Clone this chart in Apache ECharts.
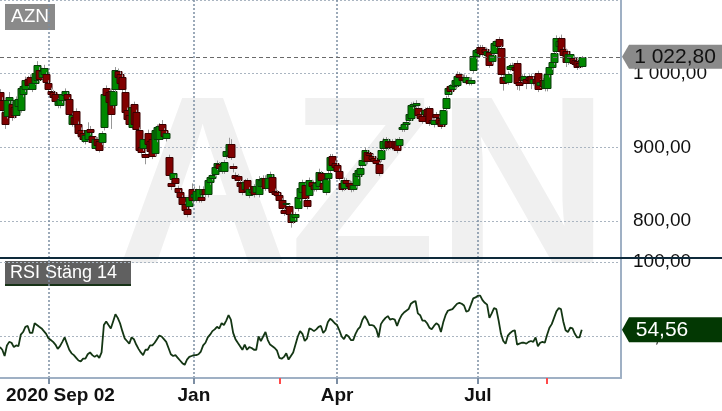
<!DOCTYPE html>
<html><head><meta charset="utf-8">
<script src="https://cdn.jsdelivr.net/npm/echarts@6/dist/echarts.min.js"></script>
<style>html,body{margin:0;padding:0;background:#fff}#c{width:722px;height:411px}</style>
</head><body><div id="c"></div>
<script>
// ---------- data ----------
const symbolName = 'AZN';
const rsiTitle = 'RSI Stäng 14';
const startDate = '2020-09-02';
const holidays = ['2020-12-24','2020-12-25','2020-12-31','2021-01-01','2021-01-06','2021-04-02','2021-04-05','2021-05-13','2021-06-25'];
const slotCount = 270;              // trading-day slots shown on the axis (data + empty right margin)
const firstLabel = '2020 Sep 02';
const quarterLabels = {1:'Jan', 4:'Apr', 7:'Jul', 10:''};
const exDividendDates = ['2021-02-25','2021-08-12'];

const opens = [
975,964,948,943,964,959,955,944,956,951,
972,979,993,996,979,988,992,1005,996,999,
999,988,977,975,972,957,957,964,971,972,
965,932,941,949,932,924,920,908,911,925,
916,899,911,908,907,927,980,975,977,957,
979,1004,1000,996,975,951,944,928,959,948,
924,901,899,891,920,908,911,892,911,911,
932,923,912,887,852,857,859,845,839,832,
823,816,821,844,832,829,829,832,837,843,
836,853,859,864,873,877,868,868,888,889,
904,875,863,861,853,851,843,855,835,839,
847,839,836,848,848,859,845,859,860,841,
839,835,828,815,823,820,809,800,805,817,
831,839,849,828,835,853,849,844,848,865,
851,839,859,869,888,879,876,868,851,845,
855,852,851,844,849,861,864,876,881,893,
892,888,885,883,877,884,899,899,909,907,
908,909,909,903,925,925,932,937,940,956,
957,953,945,943,945,952,953,937,931,945,
940,937,932,953,972,983,979,983,985,999,
996,996,989,992,988,1005,1024,1029,1036,1036,
1033,1025,1029,1017,1028,1039,1047,1035,995,991,
989,1007,1009,1009,1015,989,996,991,993,996,
997,988,993,1001,985,991,980,980,999,1009,
1016,1031,1037,1049,1033,1031,1016,1021,1021,1019,
1017,1015,1011];
const closes = [
961,951,932,964,968,941,944,964,965,980,
983,991,985,985,988,1001,1012,993,1004,1008,
989,979,972,968,963,963,965,972,976,965,
945,944,932,932,919,916,911,917,924,921,
907,911,903,897,919,973,971,961,945,976,
1005,995,987,979,948,939,931,955,932,925,
897,893,911,887,905,895,888,924,927,929,
924,916,919,863,847,865,851,839,832,823,
815,809,832,828,837,841,844,829,844,836,
856,860,863,873,879,872,875,880,895,905,
887,872,859,855,848,839,853,841,843,844,
836,847,857,856,859,845,859,864,840,837,
835,829,817,811,825,809,799,809,809,832,
845,853,831,820,856,847,844,852,867,855,
844,857,865,887,876,873,868,859,844,856,
851,847,843,849,865,869,872,883,896,881,
889,884,881,879,865,897,909,911,900,901,
900,899,896,911,927,931,935,945,957,959,
960,944,940,936,951,943,933,935,937,941,
933,929,951,967,980,977,985,991,997,995,
992,991,995,988,992,1024,1032,1033,1028,1027,
1029,1031,1012,1025,1041,1044,1037,1000,987,996,
1000,1011,1012,1005,988,985,992,997,988,991,
987,993,988,979,989,983,991,999,1009,1016,
1028,1048,1045,1031,1025,1016,1027,1027,1015,1013,
1009,1011,1022.8];
const lows = [
957,945,925,939,960,936,939,940,952,947,
968,975,981,980,975,985,988,989,992,995,
985,975,968,963,958,953,953,960,967,961,
940,928,927,928,913,911,906,904,907,917,
903,896,899,893,903,923,967,957,925,953,
975,991,983,975,944,935,927,924,928,921,
893,889,895,877,901,891,884,888,907,907,
920,912,908,859,842,853,847,835,828,819,
811,805,817,824,828,825,825,825,833,832,
832,849,855,860,869,868,864,864,884,885,
883,866,855,851,844,835,839,837,831,835,
832,835,832,844,844,841,841,855,836,833,
831,825,813,807,819,805,791,796,801,813,
827,835,827,816,831,843,840,840,844,851,
840,835,855,865,872,869,864,855,840,841,
847,843,839,840,845,857,860,872,877,877,
885,880,877,875,861,880,895,895,896,897,
896,895,892,899,921,921,928,933,936,952,
953,940,936,932,941,939,929,931,927,937,
929,925,928,949,968,973,975,979,981,991,
988,987,985,984,984,1001,1020,1025,1024,1023,
1025,1021,1008,1013,1024,1035,1033,996,977,987,
985,1003,1005,1001,978,977,988,987,979,987,
979,984,984,975,981,979,976,976,995,1005,
1012,1027,1033,1027,1021,1009,1012,1017,1011,1009,
1005,1007,1008];
const highs = [
979,968,951,968,975,962,958,969,968,984,
987,996,997,999,992,1005,1017,1009,1008,1012,
1002,991,981,978,975,967,969,976,980,975,
968,947,944,953,935,927,923,921,934,929,
919,914,914,911,922,977,984,978,980,979,
1009,1007,1003,999,978,954,947,959,962,951,
927,904,914,895,924,911,914,928,931,933,
937,926,922,890,855,868,862,848,842,835,
826,819,835,851,847,844,848,835,847,846,
859,863,866,876,882,880,878,883,899,913,
911,878,866,864,856,854,857,858,846,847,
850,850,861,859,862,862,862,867,863,844,
842,838,831,818,828,823,812,812,812,835,
848,856,852,831,859,856,852,855,871,868,
854,860,868,891,891,882,879,871,854,859,
858,855,854,852,868,872,875,886,900,896,
895,891,888,886,880,900,913,914,912,910,
911,912,912,914,930,934,938,949,961,962,
964,956,948,946,954,955,956,940,940,948,
943,940,954,970,983,986,988,994,1003,1002,
999,999,998,995,995,1028,1036,1038,1039,1039,
1036,1034,1033,1028,1045,1047,1050,1038,998,999,
1003,1014,1015,1012,1018,992,999,1000,996,999,
1000,996,996,1004,992,994,994,1002,1012,1019,
1031,1052,1050,1053,1036,1034,1030,1030,1024,1022,
1020,1018,1024];
const rsi = [
42.9,41.1,36.9,44.0,46.4,45.8,42.9,44.0,43.5,51.2,
53.0,56.5,57.1,52.4,52.4,58.9,57.7,56.5,55.4,53.6,
51.8,48.8,47.6,46.4,44.6,41.7,43.5,46.4,49.4,45.2,
41.1,38.7,37.5,35.7,33.9,33.3,35.1,35.1,38.1,39.3,
37.5,36.3,37.5,35.7,39.3,57.7,60.1,57.7,55.4,60.1,
64.9,62.5,58.9,53.6,48.8,47.0,45.2,49.4,48.2,44.6,
41.7,39.3,37.5,41.1,41.1,44.0,44.0,45.8,48.2,50.6,
50.0,48.2,46.4,42.3,38.1,36.9,37.5,35.7,33.9,32.1,
31.0,34.5,36.3,36.9,37.5,37.5,38.1,39.9,44.0,45.8,
49.4,51.2,53.6,54.8,56.5,55.4,58.9,57.7,60.7,64.3,
61.3,52.4,48.2,45.8,43.5,41.1,44.6,41.1,42.9,42.3,
41.1,41.1,50.0,47.0,50.0,53.0,47.6,44.6,43.5,42.3,
40.5,35.7,35.1,36.3,38.7,34.5,36.9,39.3,44.6,50.0,
53.6,51.8,47.0,48.8,55.4,54.8,53.6,54.8,56.5,57.1,
52.4,54.2,59.5,61.9,60.7,58.9,57.7,54.2,50.0,48.2,
51.2,50.0,47.6,47.6,51.8,54.8,56.5,61.3,63.7,61.3,
57.7,57.7,57.1,54.8,49.4,58.3,60.7,62.5,63.7,61.3,
61.9,61.3,57.1,61.3,64.3,66.1,67.3,68.4,72.0,73.2,
73.8,65.5,64.3,60.7,60.7,58.9,55.9,54.8,57.1,58.9,
57.7,53.0,59.5,64.3,67.3,67.9,68.4,70.2,72.0,72.6,
72.0,70.8,66.7,67.3,71.4,75.6,76.2,77.4,77.4,74.4,
72.6,71.4,62.5,65.5,69.0,68.4,60.7,51.8,47.0,45.2,
50.6,52.4,53.6,54.2,44.6,45.2,45.8,45.8,45.2,46.4,
47.0,46.4,49.4,43.5,45.8,46.4,45.8,51.2,55.9,58.3,
62.5,66.7,69.0,68.4,60.1,54.2,53.0,55.9,55.4,51.8,
49.4,49.4,54.56];

// ---------- trading-day calendar (categories) ----------
const dates = [];
(function () {
  const d = new Date(startDate + 'T00:00:00Z');
  while (dates.length < slotCount) {
    const wd = d.getUTCDay();
    const s = d.toISOString().slice(0, 10);
    if (wd !== 0 && wd !== 6 && holidays.indexOf(s) < 0) dates.push(s);
    d.setUTCDate(d.getUTCDate() + 1);
  }
})();
const monthOf = i => +dates[i].slice(5, 7);
const isQuarterStart = i => i > 0 && monthOf(i) !== monthOf(i - 1) && (monthOf(i) in quarterLabels);
const isExDiv = i => exDividendDates.indexOf(dates[i]) >= 0;

function sv(v) {
  const p = Number(v).toFixed(2).split('.');
  return p[0].replace(/\B(?=(\d{3})+(?!\d))/g, ' ') + ',' + p[1];
}

const candleData = opens.map((o, i) => [i, o, closes[i], lows[i], highs[i]]);
const last = closes.length - 1;
const FONT = '"Liberation Sans", Arial, sans-serif';
const frameColor = '#9fb0c4';
const vGridColor = '#7c8ea3';
const hGridColor = '#aab5c1';

function renderCandle(params, api) {
  const i = api.value(0);
  const o = api.value(1), c = api.value(2), l = api.value(3), h = api.value(4);
  const pO = api.coord([i, o]), pC = api.coord([i, c]);
  const pL = api.coord([i, l]), pH = api.coord([i, h]);
  const x = Math.round(pO[0]) + 0.5;
  const up = c >= o;
  const top = Math.round(Math.min(pO[1], pC[1])) + 0.5;
  const bot = Math.round(Math.max(pO[1], pC[1])) + 0.5;
  const w = 7;
  return {
    type: 'group',
    children: [
      { type: 'line', shape: { x1: x, y1: pH[1], x2: x, y2: pL[1] },
        style: { stroke: '#979797', lineWidth: 1 } },
      { type: 'rect', shape: { x: x - 3.5 + 0.5 - 0.5, y: top, width: w, height: Math.max(bot - top, 1) },
        style: { fill: up ? '#008800' : '#800000', stroke: up ? '#0b3b0b' : '#380000', lineWidth: 1 } }
    ]
  };
}

const calloutPath = 'path://M0,12 L7,0 L100,0 L100,24 L7,24 Z';

const option = {
  animation: false,
  backgroundColor: '#ffffff',
  textStyle: { fontFamily: FONT },
  grid: [
    { left: 0, right: 101, top: 0, height: 378 },
    { left: 0, right: 101, top: -4, height: 225 },
    { left: 0, right: 101, top: 262, height: 168 }
  ],
  xAxis: [
    { gridIndex: 0, type: 'category', data: dates, boundaryGap: false, position: 'bottom',
      axisLine: { show: true, onZero: false, lineStyle: { color: frameColor, width: 2 } },
      axisTick: { show: true, interval: i => isQuarterStart(i), length: 6, lineStyle: { color: vGridColor, width: 2 } },
      axisLabel: {
        show: true, margin: 8, alignMinLabel: 'left',
        interval: i => i === 0 || (isQuarterStart(i) && quarterLabels[monthOf(i)] !== ''),
        formatter: (v, i) => i === 0 ? '{f|' + firstLabel + '}' : '{m|' + (quarterLabels[+v.slice(5, 7)] || '') + '}',
        rich: {
          f: { fontSize: 19, fontWeight: 'bold', color: '#111', fontFamily: FONT, padding: [0, 0, 0, 6] },
          m: { fontSize: 19, fontWeight: 'bold', color: '#111', fontFamily: FONT }
        }
      },
      splitLine: { show: true, interval: i => isQuarterStart(i), lineStyle: { color: vGridColor, type: [2, 2], width: 1.5 } }
    },
    { gridIndex: 0, type: 'category', data: dates, boundaryGap: false, position: 'bottom',
      axisLine: { show: false }, axisLabel: { show: false }, splitLine: { show: false },
      axisTick: { show: true, interval: i => isExDiv(i), length: 6, lineStyle: { color: '#ff4a4a', width: 2 } } },
    { gridIndex: 1, type: 'category', data: dates, boundaryGap: false, show: false },
    { gridIndex: 2, type: 'category', data: dates, boundaryGap: false, show: false }
  ],
  yAxis: [
    { gridIndex: 0, type: 'value', position: 'right', min: 0, max: 1,
      axisLine: { show: true, lineStyle: { color: frameColor, width: 2 } },
      axisTick: { show: false }, axisLabel: { show: false }, splitLine: { show: false } },
    { gridIndex: 1, type: 'value', position: 'right', min: 800, max: 1100, interval: 100,
      axisLine: { show: false }, axisTick: { show: false },
      axisLabel: { showMaxLabel: false, formatter: sv, fontSize: 19, color: '#111', margin: 12 },
      splitLine: { show: true, lineStyle: { color: hGridColor, type: [2, 2], width: 1 } } },
    { gridIndex: 2, type: 'value', position: 'right', min: 0, max: 100, interval: 50,
      axisLine: { show: false }, axisTick: { show: false },
      axisLabel: { showMinLabel: false, formatter: sv, fontSize: 19, color: '#111', margin: 12 },
      splitLine: { show: true, lineStyle: { color: hGridColor, type: [2, 2], width: 1 } } }
  ],
  series: [
    { type: 'custom', name: symbolName, xAxisIndex: 2, yAxisIndex: 1, data: candleData,
      renderItem: renderCandle, encode: { x: 0, y: [1, 2, 3, 4] }, clip: false, z: 3,
      markLine: { silent: true, symbol: ['none', 'none'], animation: false,
        data: [{ yAxis: closes[last] }], label: { show: false },
        lineStyle: { color: '#6a6a6a', type: [4, 3], width: 1 } },
      markPoint: { silent: true, animation: false,
        data: [{ coord: [dates[slotCount - 1], closes[last]], value: closes[last] }],
        symbol: calloutPath, symbolSize: [100, 24], symbolOffset: [51, 0], symbolKeepAspect: false,
        itemStyle: { color: '#8a8a8a' },
        label: { show: true, position: 'inside', offset: [3, 0], formatter: p => sv(p.value),
          fontSize: 21, color: '#111', fontFamily: FONT } } },
    { type: 'line', name: rsiTitle, xAxisIndex: 3, yAxisIndex: 2, data: rsi, showSymbol: false,
      lineStyle: { color: '#143614', width: 1.8 }, z: 3,
      markPoint: { silent: true, animation: false,
        data: [{ coord: [dates[slotCount - 1], rsi[last]], value: rsi[last] }],
        symbol: calloutPath, symbolSize: [100, 25], symbolOffset: [51, 0], symbolKeepAspect: false,
        itemStyle: { color: '#033803' },
        label: { show: true, position: 'inside', offset: [-10, 0], formatter: p => sv(p.value),
          fontSize: 21, color: '#ffffff', fontFamily: FONT } } }
  ],
  graphic: [
    { type: 'text', z: -10, x: 116, y: 197, silent: true,
      style: { text: symbolName, font: 'bold 240px ' + FONT, fill: '#f0f0f0', align: 'left', verticalAlign: 'middle' } },
    { type: 'rect', z: 100, x: 0, y: 257, shape: { width: 722, height: 2 }, style: { fill: '#0e2a3b' } },
    { type: 'group', z: 100, x: 5, y: 4, children: [
      { type: 'rect', shape: { x: 0, y: 0, width: 50, height: 26 }, style: { fill: '#8a8a8a' } },
      { type: 'text', x: 25, y: 13, style: { text: symbolName, font: '19px ' + FONT, fill: '#ffffff', align: 'center', verticalAlign: 'middle' } }
    ] },
    { type: 'group', z: 100, x: 5, y: 261, children: [
      { type: 'rect', shape: { x: 0, y: 0, width: 126, height: 23 }, style: { fill: '#606060' } },
      { type: 'rect', shape: { x: 0, y: 23, width: 126, height: 2 }, style: { fill: '#173317' } },
      { type: 'text', x: 5, y: 12, style: { text: rsiTitle, font: '18px ' + FONT, fill: '#ffffff', align: 'left', verticalAlign: 'middle' } }
    ] }
  ]
};

const chart = echarts.init(document.getElementById('c'), null, { renderer: 'canvas' });
chart.setOption(option);
</script>
</body></html>
